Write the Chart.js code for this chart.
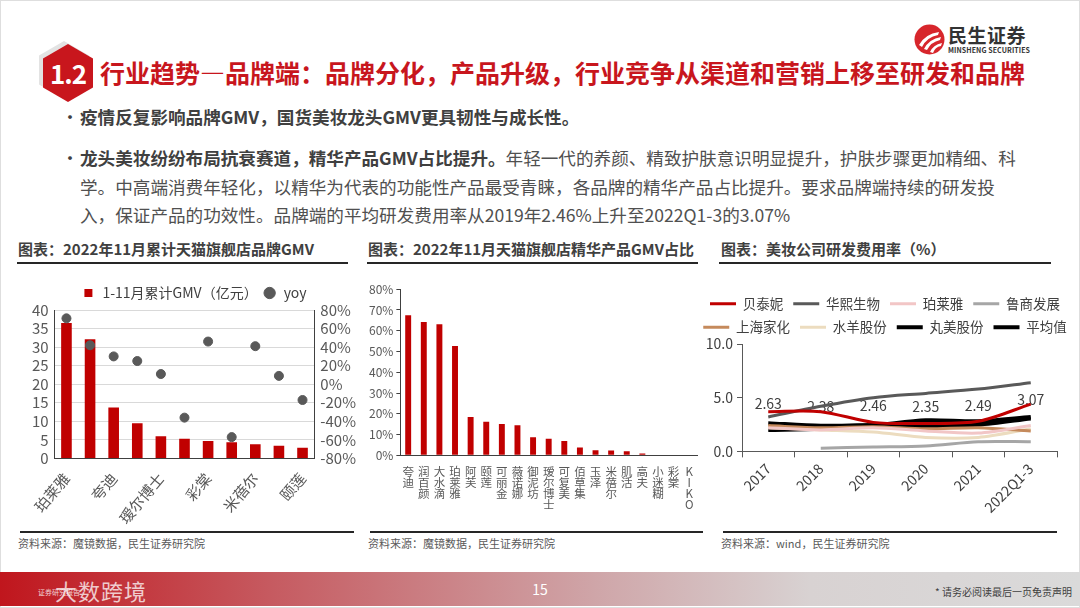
<!DOCTYPE html>
<html lang="zh-CN">
<head>
<meta charset="utf-8">
<title>行业趋势—品牌端</title>
<script src="https://cdn.jsdelivr.net/npm/chart.js@4.4.0/dist/chart.umd.min.js"></script>
<style>
  html, body { margin: 0; padding: 0; }
  body {
    width: 1080px; height: 608px; position: relative; overflow: hidden;
    background: #fff; color: #404040;
    font-family: "Noto Sans CJK SC", "Noto Sans", sans-serif;
  }
  .abs { position: absolute; }
  .frame { left: 0; top: 0; width: 1078px; height: 606px; border: 1px solid #dedede; }
  .hex-shadow, .hex {
    width: 50px; height: 58px;
    clip-path: polygon(50% 0, 100% 25%, 100% 75%, 50% 100%, 0 75%, 0 25%);
  }
  .hex-shadow { left: 39px; top: 41px; background: #e3e3e3; }
  .hex {
    left: 43px; top: 44px; background: #c8161d; color: #fff;
    font-weight: 700; font-size: 26px; line-height: 58px; text-align: center;
    letter-spacing: -1px;
  }
  .title { left: 100px; top: 55px; font-size: 25px; font-weight: 700; color: #c8161d; line-height: 34px; white-space: nowrap; }
  .logo-cn { left: 948px; top: 23px; font-size: 19px; font-weight: 700; color: #333; line-height: 24px; letter-spacing: 0.5px; }
  .logo-en { left: 948px; top: 46px; font-size: 7px; font-weight: 700; color: #333; line-height: 8px; letter-spacing: 0.1px; white-space: nowrap; }
  .dot { left: 61px; font-size: 18px; color: #404040; }
  .para { left: 80px; font-size: 17.6px; line-height: 28.5px; white-space: nowrap; color: #505050; }
  .para b { color: #404040; font-weight: 700; }
  .ctitle { top: 239px; font-size: 15px; font-weight: 700; color: #404040; line-height: 20px; white-space: nowrap; }
  .rule { height: 2px; background: #262626; }
  .src { top: 536px; font-size: 11px; color: #595959; line-height: 14px; white-space: nowrap; }
  .box { position: absolute; }
  .footer {
    left: 0; top: 572px; width: 1080px; height: 34px;
    background: linear-gradient(90deg, #c0161d 0%, #c65a60 25%, #cfa5a8 55%, #d8d2d2 75%, #dadada 100%);
  }
  .page { left: 530px; top: 580px; width: 20px; text-align: center; color: #fff; font-size: 14px; line-height: 18px; }
  .note { right: 8px; top: 586px; font-size: 10px; color: #404040; line-height: 12px; }
  .mark { left: 55px; top: 577px; font-size: 22px; color: rgba(255,255,255,0.75); line-height: 26px; letter-spacing: 1px; }
  .mark-sm { left: 38px; top: 588px; font-size: 7px; color: rgba(255,255,255,0.8); line-height: 9px; }
</style>
</head>
<body>
<div class="abs frame"></div>

<div class="abs hex-shadow"></div>
<div class="abs hex">1.2</div>
<div class="abs title">行业趋势—品牌端：品牌分化，产品升级，行业竞争从渠道和营销上移至研发和品牌</div>

<svg class="abs" style="left:914px;top:24px" width="31" height="31" viewBox="0 0 31 31">
  <circle cx="15.5" cy="15.5" r="15" fill="#d7262c"/>
  <path d="M5 21 Q11 10 25 8 L24 11 Q13 13 8 23 Z" fill="#fff"/>
  <path d="M10 25 Q15 15 27 13 L26 16 Q17 18 13 26 Z" fill="#fff"/>
  <path d="M16 28 Q19 21 28 19 L27 22 Q21 23 19 29 Z" fill="#fff"/>
</svg>
<div class="abs logo-cn">民生证券</div>
<div class="abs logo-en">MINSHENG SECURITIES</div>

<div class="abs dot" style="top:103px">•</div>
<div class="abs para" style="top:103px"><b>疫情反复影响品牌GMV，国货美妆龙头GMV更具韧性与成长性。</b></div>
<div class="abs dot" style="top:144px">•</div>
<div class="abs para" style="top:144px"><b>龙头美妆纷纷布局抗衰赛道，精华产品GMV占比提升。</b>年轻一代的养颜、精致护肤意识明显提升，护肤步骤更加精细、科<br>学。中高端消费年轻化，以精华为代表的功能性产品最受青睐，各品牌的精华产品占比提升。要求品牌端持续的研发投<br>入，保证产品的功效性。品牌端的平均研发费用率从2019年2.46%上升至2022Q1-3的3.07%</div>

<div class="abs ctitle" style="left:18px">图表：2022年11月累计天猫旗舰店品牌GMV</div>
<div class="abs rule" style="left:17px;top:262px;width:331px"></div>
<div class="abs ctitle" style="left:368px">图表：2022年11月天猫旗舰店精华产品GMV占比</div>
<div class="abs rule" style="left:367px;top:262px;width:331px"></div>
<div class="abs ctitle" style="left:721px">图表：美妆公司研发费用率（%）</div>
<div class="abs rule" style="left:719px;top:262px;width:332px"></div>

<div class="box" style="left:0;top:281px;width:362px;height:249px"><canvas id="gmvChart"></canvas></div>
<div class="box" style="left:362px;top:279px;width:343px;height:234px"><canvas id="serumChart"></canvas></div>
<div class="box" style="left:690px;top:287px;width:390px;height:232px"><canvas id="rdChart"></canvas></div>

<div class="abs rule" style="left:20px;top:531px;width:334px"></div>
<div class="abs rule" style="left:370px;top:531px;width:333px"></div>
<div class="abs rule" style="left:723px;top:531px;width:334px"></div>
<div class="abs src" style="left:18px">资料来源：魔镜数据，民生证券研究院</div>
<div class="abs src" style="left:368px">资料来源：魔镜数据，民生证券研究院</div>
<div class="abs src" style="left:721px">资料来源：wind，民生证券研究院</div>

<div class="abs footer"></div>
<div class="abs mark">大数跨境</div>
<div class="abs mark-sm">证券研究报告</div>
<div class="abs page">15</div>
<div class="abs note">* 请务必阅读最后一页免责声明</div>

<script>
// chart 1: 2022年1-11月天猫旗舰店品牌GMV
const brandLabels = ["珀莱雅", "薇诺娜", "夸迪", "润百颜", "瑷尔博士", "可复美", "彩棠", "玉泽", "米蓓尔", "阿芙", "颐莲"];
const brandGmv = [36.5, 32.1, 13.7, 9.5, 6.0, 5.3, 4.7, 4.4, 3.8, 3.4, 2.9];
const brandYoy = [71, 42, 30, 25, 11, -36, 46, -57, 41, 9, -17];

// chart 2: 精华产品GMV占比 (%)
const serumLabels = ["夸迪", "润百颜", "大水滴", "珀莱雅", "阿芙", "颐莲", "可丽金", "薇诺娜", "御泥坊", "瑷尔博士",
  "可复美", "佰草集", "玉泽", "米蓓尔", "肌活", "高夫", "小迷糊", "彩棠", "KIKO"];
const serumShare = [67.4, 64.2, 63.1, 52.7, 18.5, 16.2, 15.1, 14.5, 8.7, 8.0, 6.9, 3.8, 2.4, 2.3, 2.0, 0.9, 0, 0, 0];

// chart 3: 研发费用率 (%)
const rdYears = ["2017", "2018", "2019", "2020", "2021", "2022Q1-3"];
const rdBotanee = [3.7, 3.7, 2.7, 2.6, 2.8, 4.4];
const rdBloomage = [3.2, 4.2, 5.0, 5.4, 5.8, 6.4];
const rdProya = [2.2, 2.0, 2.2, 1.9, 1.7, 2.4];
const rdLushang = [null, 0.3, 0.4, 0.5, 0.9, 0.9];
const rdJahwa = [2.4, 2.2, 2.3, 2.1, 2.2, 1.9];
const rdYujiahui = [2.2, 2.0, 1.8, 1.3, 1.3, 2.1];
const rdMarubi = [2.0, 2.1, 2.4, 2.9, 2.8, 3.2];
const rdAverage = [2.63, 2.38, 2.46, 2.35, 2.49, 3.07];

const FONT = '"Noto Sans CJK SC", "Noto Sans", sans-serif';
const RED = "#c00000";
Chart.defaults.font.family = FONT;
Chart.defaults.color = "#595959";
Chart.defaults.animation = false;

// ---- chart 1 ----
new Chart(document.getElementById("gmvChart"), {
  type: "bar",
  data: {
    labels: brandLabels,
    datasets: [
      {
        label: "1-11月累计GMV（亿元）",
        data: brandGmv,
        backgroundColor: RED,
        categoryPercentage: 1,
        barPercentage: 0.45,
        pointStyle: "rect",
        yAxisID: "y",
        order: 2
      },
      {
        type: "line",
        label: "yoy",
        data: brandYoy,
        showLine: false,
        pointRadius: 4.5,
        pointStyle: "circle",
        backgroundColor: "#595959",
        borderColor: "#595959",
        pointBackgroundColor: "#595959",
        pointBorderColor: "#595959",
        yAxisID: "y1",
        order: 1
      }
    ]
  },
  options: {
    responsive: true,
    maintainAspectRatio: false,
    layout: { padding: { left: 26, right: 0, top: 0, bottom: 0 } },
    plugins: {
      legend: {
        labels: {
          usePointStyle: true,
          boxHeight: 8,
          padding: 5,
          color: "#404040",
          font: { size: 14 },
          sort: (a, b) => a.datasetIndex - b.datasetIndex
        }
      },
      tooltip: { enabled: false }
    },
    scales: {
      x: {
        grid: { display: false },
        border: { color: "#404040" },
        ticks: {
          autoSkip: false,
          minRotation: 50,
          maxRotation: 50,
          color: "#595959",
          font: { size: 15 },
          callback: function (value, index) {
            return index % 2 === 0 ? this.getLabelForValue(value) : "";
          }
        }
      },
      y: {
        min: 0, max: 40,
        ticks: { stepSize: 5, autoSkip: false, padding: 6, font: { size: 15 }, color: "#595959" },
        grid: { color: "#d9d9d9", drawTicks: false },
        border: { color: "#404040" }
      },
      y1: {
        position: "right",
        min: -80, max: 80,
        ticks: { stepSize: 20, autoSkip: false, padding: 6, font: { size: 15 }, color: "#595959", callback: v => v + "%" },
        grid: { display: false, drawTicks: false },
        border: { color: "#404040" }
      }
    }
  }
});

// ---- chart 2 ----
new Chart(document.getElementById("serumChart"), {
  type: "bar",
  data: {
    labels: serumLabels.map(name => Array.from(name)),
    datasets: [{
      label: "精华产品GMV占比",
      data: serumShare,
      backgroundColor: RED,
      categoryPercentage: 1,
      barPercentage: 0.38
    }]
  },
  options: {
    responsive: true,
    maintainAspectRatio: false,
    layout: { padding: { left: 4, right: 8, top: 2, bottom: 0 } },
    plugins: { legend: { display: false }, tooltip: { enabled: false } },
    scales: {
      x: {
        grid: { display: false },
        border: { color: "#404040" },
        ticks: {
          autoSkip: false, maxRotation: 0, minRotation: 0, padding: 3,
          color: "#595959", font: { size: 11.5, lineHeight: 0.95 }
        }
      },
      y: {
        min: 0, max: 80,
        ticks: { stepSize: 10, autoSkip: false, padding: 3, color: "#595959", font: { size: 12 }, callback: v => v + "%" },
        grid: { drawOnChartArea: false, tickLength: 4, color: "#404040" },
        border: { color: "#404040" }
      }
    }
  }
});

// ---- chart 3 ----
const averageLabels = {
  id: "averageLabels",
  beforeDatasetsDraw(chart) {
    const meta = chart.getDatasetMeta(chart.data.datasets.length - 1);
    const ctx = chart.ctx;
    ctx.save();
    ctx.font = "14px " + FONT;
    ctx.fillStyle = "#404040";
    ctx.textAlign = "center";
    ctx.textBaseline = "middle";
    meta.data.forEach((pt, i) => {
      ctx.fillText(rdAverage[i].toFixed(2), pt.x, pt.y - 19);
    });
    ctx.restore();
  }
};

const lineSet = (label, data, color, width) => ({
  label, data,
  borderColor: color,
  backgroundColor: color,
  borderWidth: width,
  pointRadius: 0,
  tension: 0.3,
  spanGaps: false
});

new Chart(document.getElementById("rdChart"), {
  type: "line",
  data: {
    labels: rdYears,
    datasets: [
      lineSet("贝泰妮", rdBotanee, "#c00000", 3),
      lineSet("华熙生物", rdBloomage, "#595959", 3),
      lineSet("珀莱雅", rdProya, "#f2c6c6", 3),
      lineSet("鲁商发展", rdLushang, "#a6a6a6", 3),
      lineSet("上海家化", rdJahwa, "#c58a5c", 3),
      lineSet("水羊股份", rdYujiahui, "#ecdcbf", 3),
      lineSet("丸美股份", rdMarubi, "#000000", 4),
      lineSet("平均值", rdAverage, "#000000", 4)
    ]
  },
  plugins: [averageLabels],
  options: {
    responsive: true,
    maintainAspectRatio: false,
    layout: { padding: 0 },
    plugins: {
      legend: {
        labels: {
          usePointStyle: true,
          pointStyle: "line",
          pointStyleWidth: 26,
          padding: 10,
          color: "#404040",
          font: { size: 13.5 }
        }
      },
      tooltip: { enabled: false }
    },
    scales: {
      x: {
        offset: true,
        grid: { offset: true, drawOnChartArea: false, tickLength: 6, color: "#595959" },
        border: { color: "#595959" },
        ticks: { minRotation: 45, maxRotation: 45, color: "#404040", font: { size: 14 } }
      },
      y: {
        min: 0, max: 10,
        afterFit: scale => { scale.width = 52; },
        ticks: { stepSize: 5, padding: 4, color: "#404040", font: { size: 14 }, callback: v => v.toFixed(1) },
        grid: { drawOnChartArea: false, tickLength: 5, color: "#595959" },
        border: { color: "#595959" }
      },
      // spacer on the right so the plot ends where the original does, without narrowing the legend
      spacer: {
        position: "right",
        display: true,
        afterFit: scale => { scale.width = 23; },
        ticks: { display: false },
        grid: { display: false, drawTicks: false },
        border: { display: false }
      }
    }
  }
});
</script>
</body>
</html>
